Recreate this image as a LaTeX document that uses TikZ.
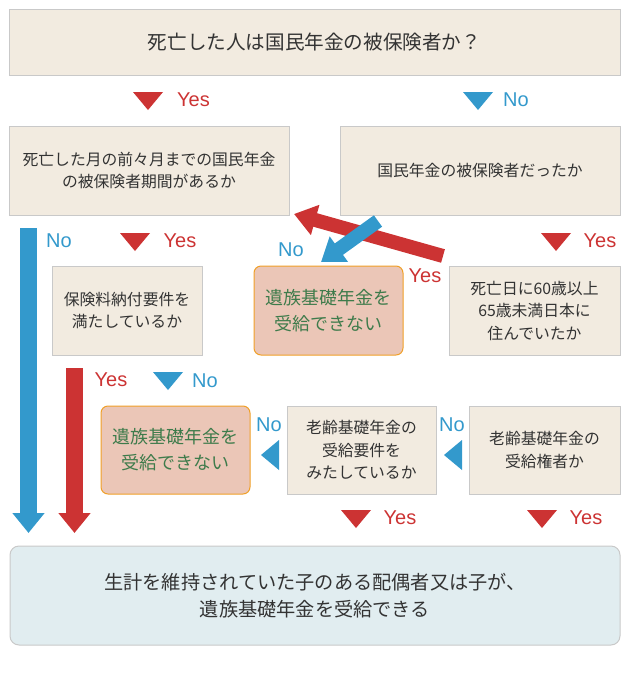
\documentclass[tikz,border=0pt]{standalone}
\usepackage{fontspec}
\setmainfont{Noto Sans CJK JP}
\newfontfamily\labfont{Liberation Sans}
\usetikzlibrary{arrows.meta}
\definecolor{cred}{HTML}{CC3333}
\definecolor{cblue}{HTML}{3399CC}
\definecolor{boxfill}{HTML}{F2EBE0}
\definecolor{boxline}{HTML}{C9C9C9}
\definecolor{ngfill}{HTML}{EBC6B7}
\definecolor{ngline}{HTML}{F0A028}
\definecolor{nggreen}{HTML}{3E7B4B}
\definecolor{resfill}{HTML}{E1EDF0}
\definecolor{txt}{HTML}{333333}
\newcommand\dtri[3]{\fill[#3] ({#1-15},{#2-9}) -- ({#1+15},{#2-9}) -- (#1,{#2+9}) -- cycle;}
\newcommand\ltri[3]{\fill[#3] ({#1-9},#2) -- ({#1+9},{#2-15}) -- ({#1+9},{#2+15}) -- cycle;}
\begin{document}
\begin{tikzpicture}[x=1pt,y=-1pt,
  qbox/.style={draw=boxline, fill=boxfill, line width=1pt, align=center, text=txt,
    inner sep=0pt, font=\fontsize{15.8}{22.5}\selectfont},
  ngbox/.style={draw=ngline, fill=ngfill, line width=1pt, rounded corners=7pt, align=center,
    text=nggreen, inner sep=0pt, font=\fontsize{18}{26}\selectfont},
  yeslab/.style={text=cred, font=\labfont\fontsize{20}{20}\selectfont, inner sep=0pt},
  nolab/.style={text=cblue, font=\labfont\fontsize{20}{20}\selectfont, inner sep=0pt},
  fatred/.style={draw=cred, line width=17pt, -{Triangle[width=31pt,length=20pt]}},
  fatblue/.style={draw=cblue, line width=17pt, -{Triangle[width=31pt,length=20pt]}},
  diagred/.style={draw=cred, line width=14pt, -{Triangle[width=30pt,length=22pt]}},
  diagblue/.style={draw=cblue, line width=14pt, -{Triangle[width=30pt,length=22pt]}},
]
\useasboundingbox (0,0) rectangle (640,678);

% boxes
\node[qbox, minimum width=611pt, minimum height=66pt, font=\fontsize{19.6}{26}\selectfont] (top) at (314.5,42) {死亡した人は国民年金の被保険者か？};
\node[qbox, minimum width=280pt, minimum height=89pt] (q2l) at (149,170.5) {死亡した月の前々月までの国民年金\\の被保険者期間があるか};
\node[qbox, minimum width=280pt, minimum height=89pt] (q2r) at (480,170.5) {国民年金の被保険者だったか};
\node[qbox, minimum width=150pt, minimum height=89pt] (q3l) at (127,310.5) {保険料納付要件を\\満たしているか};
\node[ngbox, minimum width=149pt, minimum height=89pt] (ng1) at (328.5,310.5) {遺族基礎年金を\\受給できない};
\node[qbox, minimum width=171pt, minimum height=89pt] (q3r) at (534.5,310.5) {死亡日に60歳以上\\65歳未満日本に\\住んでいたか};
\node[ngbox, minimum width=149pt, minimum height=88pt] (ng2) at (175.5,450) {遺族基礎年金を\\受給できない};
\node[qbox, minimum width=149pt, minimum height=88pt] (q4m) at (361.5,450) {老齢基礎年金の\\受給要件を\\みたしているか};
\node[qbox, minimum width=151pt, minimum height=88pt] (q4r) at (544.5,450) {老齢基礎年金の\\受給権者か};
\node[draw=boxline, fill=resfill, line width=1pt, rounded corners=9pt, align=center, text=txt,
  inner sep=0pt, minimum width=610pt, minimum height=99pt, font=\fontsize{19.2}{27}\selectfont]
  (res) at (315,595.5) {生計を維持されていた子のある配偶者又は子が、\\遺族基礎年金を受給できる};

% small triangles and labels
\dtri{148}{101}{cred} \node[yeslab] (l1) at (193.5,100) {Yes};
\dtri{478}{101}{cblue} \node[nolab] (l2) at (516,100) {No};
\node[nolab] (l3) at (59,241) {No};
\dtri{135}{242}{cred} \node[yeslab] (l4) at (180,241) {Yes};
\dtri{556}{242}{cred} \node[yeslab] (l5) at (600,241) {Yes};
\node[nolab] (l6) at (291,250) {No};
\node[yeslab] (l7) at (425,276) {Yes};
\node[yeslab] (l8) at (111,380) {Yes};
\dtri{168}{381}{cblue} \node[nolab] (l9) at (205,381) {No};
\ltri{270}{455}{cblue} \node[nolab] (l10) at (269,425) {No};
\ltri{453}{455}{cblue} \node[nolab] (l11) at (452,425) {No};
\dtri{356}{519}{cred} \node[yeslab] (l12) at (400,518) {Yes};
\dtri{542}{519}{cred} \node[yeslab] (l13) at (586,518) {Yes};

% fat arrows
\coordinate (bs) at (28.5,228);
\coordinate (be) at (28.5,533);
\coordinate (rs) at (74.5,368);
\coordinate (re) at (74.5,533);
\draw[fatblue] (bs) -- (be);
\draw[fatred] (rs) -- (re);
\coordinate (drs) at (443,256);
\coordinate (dre) at (294,214);
\coordinate (dbs) at (378,221);
\coordinate (dbe) at (321,262);
\draw[diagred] (drs) -- (dre);
\draw[diagblue] (dbs) -- (dbe);
\end{tikzpicture}
\end{document}
